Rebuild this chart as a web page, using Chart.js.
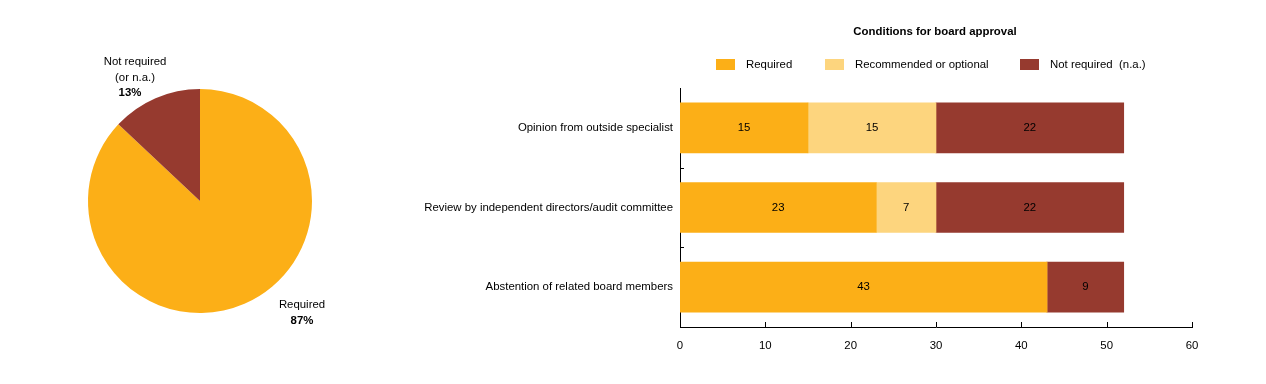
<!DOCTYPE html>
<html>
<head>
<meta charset="utf-8">
<script src="https://cdn.jsdelivr.net/npm/chart.js@4"></script>
<style>
  body { margin: 0; background: #fff; }
  #wrap { position: relative; width: 1266px; height: 384px; }
  canvas { position: absolute; top: 0; }
</style>
</head>
<body>
<div id="wrap">
  <canvas id="pieChart" width="400" height="384" style="left:0;width:400px;height:384px"></canvas>
  <canvas id="barChart" width="866" height="384" style="left:400px;width:866px;height:384px"></canvas>
</div>
<script>
// pie data
const pieLabels = ['Required', 'Not required (or n.a.)'];
const pieValues = [87, 13];

// bar data
const categories = [
    'Opinion from outside specialist',
    'Review by independent directors/audit committee',
    'Abstention of related board members'
];
const requiredVals = [15, 23, 43];
const recommendedVals = [15, 7, 0];
const notRequiredVals = [22, 22, 9];
const xTicks = [0, 10, 20, 30, 40, 50, 60];

const ORANGE = '#FCAF17';
const LIGHT = '#FDD57E';
const BROWN = '#963A2F';
const FONT = '"Liberation Sans Narrow", "Arial Narrow", "Liberation Sans", Arial, sans-serif';
const FSIZE = 11.4;

Chart.defaults.font.family = FONT;
Chart.defaults.font.size = FSIZE;
Chart.defaults.color = '#000';

// labels outside the pie
const pieLabelPlugin = {
    id: 'pieLabels',
    afterDraw(chart) {
        const ctx = chart.ctx;
        ctx.save();
        ctx.fillStyle = '#000';
        ctx.textAlign = 'center';
        ctx.textBaseline = 'middle';
        ctx.font = FSIZE + 'px ' + FONT;
        ctx.fillText('Not required', 135, 62);
        ctx.fillText('(or n.a.)', 135, 78);
        ctx.fillText('Required', 302, 305);
        ctx.font = 'bold ' + FSIZE + 'px ' + FONT;
        ctx.fillText(pieValues[1] + '%', 130, 93);
        ctx.fillText(pieValues[0] + '%', 302, 321);
        ctx.restore();
    }
};

new Chart(document.getElementById('pieChart').getContext('2d'), {
    type: 'pie',
    data: {
        labels: pieLabels,
        datasets: [{
            data: pieValues,
            backgroundColor: [ORANGE, BROWN],
            borderWidth: 0
        }]
    },
    options: {
        responsive: false,
        animation: false,
        layout: { padding: { top: 89, bottom: 71, left: 88, right: 88 } },
        plugins: { legend: { display: false }, tooltip: { enabled: false } }
    },
    plugins: [pieLabelPlugin]
});

// title, legend, value labels and tick marks for the bar chart
const barExtras = {
    id: 'barExtras',
    afterDraw(chart) {
        const ctx = chart.ctx;
        const area = chart.chartArea;
        const x = chart.scales.x;
        const y = chart.scales.y;
        ctx.save();

        // title
        ctx.fillStyle = '#000';
        ctx.textAlign = 'center';
        ctx.textBaseline = 'middle';
        ctx.font = 'bold ' + FSIZE + 'px ' + FONT;
        ctx.fillText('Conditions for board approval', 535, 32);

        // legend
        const items = [
            { text: 'Required', color: ORANGE, x: 316 },
            { text: 'Recommended or optional', color: LIGHT, x: 425 },
            { text: 'Not required  (n.a.)', color: BROWN, x: 620 }
        ];
        ctx.font = FSIZE + 'px ' + FONT;
        ctx.textAlign = 'left';
        items.forEach(it => {
            ctx.fillStyle = it.color;
            ctx.fillRect(it.x, 59, 19, 11);
            ctx.fillStyle = '#000';
            ctx.fillText(it.text, it.x + 30, 65);
        });

        // value labels
        ctx.textAlign = 'center';
        chart.data.datasets.forEach((ds, i) => {
            const meta = chart.getDatasetMeta(i);
            meta.data.forEach((bar, j) => {
                const v = ds.data[j];
                if (!v) return;
                const cx = (bar.x + bar.base) / 2;
                ctx.fillText(String(v), cx, bar.y);
            });
        });

        // x tick marks (pointing up)
        ctx.strokeStyle = '#000';
        ctx.lineWidth = 1;
        xTicks.forEach(t => {
            const px = Math.round(x.getPixelForValue(t)) + 0.5;
            ctx.beginPath();
            ctx.moveTo(px, area.bottom);
            ctx.lineTo(px, area.bottom - 5);
            ctx.stroke();
        });

        // y tick marks at category boundaries (pointing right)
        for (let i = 1; i < categories.length; i++) {
            const py = Math.round(y.getPixelForValue(i - 0.5)) + 0.5;
            ctx.beginPath();
            ctx.moveTo(area.left, py);
            ctx.lineTo(area.left + 4, py);
            ctx.stroke();
        }
        ctx.restore();
    }
};

new Chart(document.getElementById('barChart').getContext('2d'), {
    type: 'bar',
    data: {
        labels: categories,
        datasets: [
            { label: 'Required', data: requiredVals, backgroundColor: ORANGE },
            { label: 'Recommended or optional', data: recommendedVals, backgroundColor: LIGHT },
            { label: 'Not required  (n.a.)', data: notRequiredVals, backgroundColor: BROWN }
        ]
    },
    options: {
        responsive: false,
        animation: false,
        indexAxis: 'y',
        layout: { padding: { top: 88, right: 74, left: 0, bottom: 0 } },
        datasets: { bar: { barThickness: 50 } },
        scales: {
            x: {
                stacked: true,
                min: 0,
                max: 60,
                afterFit(scale) { scale.height = 57; },
                afterBuildTicks(scale) { scale.ticks = xTicks.map(v => ({ value: v })); },
                grid: { display: false, drawTicks: false },
                border: { display: true, color: '#000', width: 1 },
                ticks: { padding: 12, maxRotation: 0 }
            },
            y: {
                stacked: true,
                afterFit(scale) { scale.width = 280; },
                grid: { display: false, drawTicks: false },
                border: { display: true, color: '#000', width: 1 },
                ticks: { padding: 7 }
            }
        },
        plugins: { legend: { display: false }, tooltip: { enabled: false } }
    },
    plugins: [barExtras]
});
</script>
</body>
</html>
